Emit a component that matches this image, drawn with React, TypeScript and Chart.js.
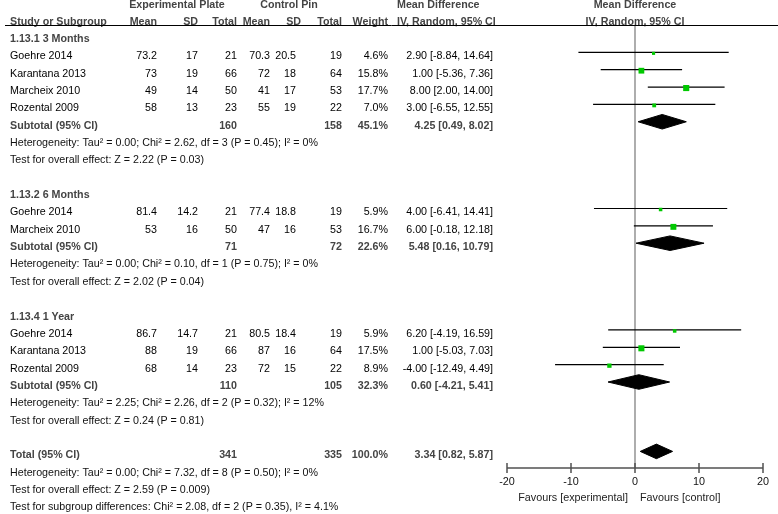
import React, { useEffect, useRef } from 'react';
import { Chart, registerables } from 'chart.js';

Chart.register(...registerables);

// ---------- data ----------
const STUDY_NAMES = ['Goehre 2014', 'Karantana 2013', 'Marcheix 2010', 'Rozental 2009', 'Goehre 2014', 'Marcheix 2010', 'Goehre 2014', 'Karantana 2013', 'Rozental 2009'];
const STUDY_ROWS = [3, 4, 5, 6, 12, 13, 19, 20, 21];
const EXP_MEAN = [73.2, 73, 49, 58, 81.4, 53, 86.7, 88, 68];
const EXP_SD = [17, 19, 14, 13, 14.2, 16, 14.7, 19, 14];
const EXP_TOTAL = [21, 66, 50, 23, 21, 50, 21, 66, 23];
const CTRL_MEAN = [70.3, 72, 41, 55, 77.4, 47, 80.5, 87, 72];
const CTRL_SD = [20.5, 18, 17, 19, 18.8, 16, 18.4, 16, 15];
const CTRL_TOTAL = [19, 64, 53, 22, 19, 53, 19, 64, 22];
const WEIGHTS = [4.6, 15.8, 17.7, 7.0, 5.9, 16.7, 5.9, 17.5, 8.9];
const MD = [2.9, 1.0, 8.0, 3.0, 4.0, 6.0, 6.2, 1.0, -4.0];
const CI_LO = [-8.84, -5.36, 2.0, -6.55, -6.41, -0.18, -4.19, -5.03, -12.49];
const CI_HI = [14.64, 7.36, 14.0, 12.55, 14.41, 12.18, 16.59, 7.03, 4.49];

const GROUP_LABELS = ['1.13.1 3 Months', '1.13.2 6 Months', '1.13.4 1 Year'];
const GROUP_ROWS = [2, 11, 18];

const POOLED_LABELS = ['Subtotal (95% CI)', 'Subtotal (95% CI)', 'Subtotal (95% CI)', 'Total (95% CI)'];
const POOLED_ROWS = [7, 14, 22, 26];
const POOLED_EXP_TOTAL = [160, 71, 110, 341];
const POOLED_CTRL_TOTAL = [158, 72, 105, 335];
const POOLED_WEIGHT = [45.1, 22.6, 32.3, 100.0];
const POOLED_MD = [4.25, 5.48, 0.6, 3.34];
const POOLED_LO = [0.49, 0.16, -4.21, 0.82];
const POOLED_HI = [8.02, 10.79, 5.41, 5.87];

const NOTE_ROWS = [8, 9, 15, 16, 23, 24, 27, 28, 29];
const NOTES = [
  'Heterogeneity: Tau² = 0.00; Chi² = 2.62, df = 3 (P = 0.45); I² = 0%',
  'Test for overall effect: Z = 2.22 (P = 0.03)',
  'Heterogeneity: Tau² = 0.00; Chi² = 0.10, df = 1 (P = 0.75); I² = 0%',
  'Test for overall effect: Z = 2.02 (P = 0.04)',
  'Heterogeneity: Tau² = 2.25; Chi² = 2.26, df = 2 (P = 0.32); I² = 12%',
  'Test for overall effect: Z = 0.24 (P = 0.81)',
  'Heterogeneity: Tau² = 0.00; Chi² = 7.32, df = 8 (P = 0.50); I² = 0%',
  'Test for overall effect: Z = 2.59 (P = 0.009)',
  'Test for subgroup differences: Chi² = 2.08, df = 2 (P = 0.35), I² = 4.1%',
];

const X_TICKS = [-20, -10, 0, 10, 20];
const X_MIN = -20;
const X_MAX = 20;
const FAVOURS_LEFT = 'Favours [experimental]';
const FAVOURS_RIGHT = 'Favours [control]';

// ---------- layout ----------
const W = 778;
const H = 514;
const ROW_H = 17.35;
const TEXT_DY = 4; // text sits a little below the marks
const PLOT_TOP = 26;
const PLOT_BOTTOM = 468;
const PLOT_LEFT = 507;
const PLOT_RIGHT = 763;
const Y_MIN = 2 - (39 - TEXT_DY - PLOT_TOP) / ROW_H;
const Y_MAX = Y_MIN + (PLOT_BOTTOM - PLOT_TOP) / ROW_H;
const SQUARE_DY = 1 / ROW_H;
const FONT = "'Liberation Sans', Arial, sans-serif";
const FS = 10.7;
const GREEN = '#00c800';
const BOLD_COLOR = '#444444';

const fmtCI = (m: number, lo: number, hi: number) => `${m.toFixed(2)} [${lo.toFixed(2)}, ${hi.toFixed(2)}]`;

const tablePlugin = {
  id: 'forestTable',
  afterDatasetsDraw(chart: any) {
    const ctx = chart.ctx as CanvasRenderingContext2D;
    const xs = chart.scales.x;
    const ys = chart.scales.y;
    const ry = (r: number) => ys.getPixelForValue(r) + TEXT_DY;
    ctx.save();
    ctx.textBaseline = 'middle';
    const txt = (s: string, x: number, y: number, align: CanvasTextAlign, bold = false, color?: string, size = FS) => {
      ctx.font = `${bold ? 'bold ' : ''}${size}px ${FONT}`;
      ctx.fillStyle = color || (bold ? BOLD_COLOR : '#000');
      ctx.textAlign = align;
      ctx.fillText(s, x, y);
    };

    // header
    const h0 = ry(0) + 1;
    const h1 = ry(1) + 0.5;
    txt('Experimental Plate', 177, h0, 'center', true);
    txt('Control Pin', 289, h0, 'center', true);
    txt('Mean Difference', 397, h0, 'left', true);
    txt('Mean Difference', xs.getPixelForValue(0), h0, 'center', true);
    txt('Study or Subgroup', 10, h1, 'left', true);
    txt('Mean', 157, h1, 'right', true);
    txt('SD', 198, h1, 'right', true);
    txt('Total', 237, h1, 'right', true);
    txt('Mean', 270, h1, 'right', true);
    txt('SD', 301, h1, 'right', true);
    txt('Total', 342, h1, 'right', true);
    txt('Weight', 388, h1, 'right', true);
    txt('IV, Random, 95% CI', 397, h1, 'left', true);
    txt('IV, Random, 95% CI', xs.getPixelForValue(0), h1, 'center', true);

    ctx.strokeStyle = '#000';
    ctx.lineWidth = 1;
    ctx.beginPath();
    ctx.moveTo(5, PLOT_TOP - 0.5);
    ctx.lineTo(W, PLOT_TOP - 0.5);
    ctx.stroke();

    GROUP_LABELS.forEach((g, i) => txt(g, 10, ry(GROUP_ROWS[i]), 'left', true));

    STUDY_NAMES.forEach((n, i) => {
      const y = ry(STUDY_ROWS[i]);
      txt(n, 10, y, 'left');
      txt(String(EXP_MEAN[i]), 157, y, 'right');
      txt(String(EXP_SD[i]), 198, y, 'right');
      txt(String(EXP_TOTAL[i]), 237, y, 'right');
      txt(String(CTRL_MEAN[i]), 270, y, 'right');
      txt(String(CTRL_SD[i]), 296, y, 'right');
      txt(String(CTRL_TOTAL[i]), 342, y, 'right');
      txt(WEIGHTS[i].toFixed(1) + '%', 388, y, 'right');
      txt(fmtCI(MD[i], CI_LO[i], CI_HI[i]), 493, y, 'right');
    });

    POOLED_LABELS.forEach((l, i) => {
      const y = ry(POOLED_ROWS[i]);
      txt(l, 10, y, 'left', true);
      txt(String(POOLED_EXP_TOTAL[i]), 237, y, 'right', true);
      txt(String(POOLED_CTRL_TOTAL[i]), 342, y, 'right', true);
      txt(POOLED_WEIGHT[i].toFixed(1) + '%', 388, y, 'right', true);
      txt(fmtCI(POOLED_MD[i], POOLED_LO[i], POOLED_HI[i]), 493, y, 'right', true);
    });

    NOTES.forEach((n, i) => txt(n, 10, ry(NOTE_ROWS[i]), 'left', false, '#111'));

    // x axis
    const ay = chart.chartArea.bottom;
    ctx.strokeStyle = '#505050';
    ctx.lineWidth = 1.5;
    ctx.beginPath();
    ctx.moveTo(xs.getPixelForValue(X_MIN), ay);
    ctx.lineTo(xs.getPixelForValue(X_MAX), ay);
    ctx.stroke();
    X_TICKS.forEach((t) => {
      const px = xs.getPixelForValue(t);
      ctx.beginPath();
      ctx.moveTo(px, ay - 5);
      ctx.lineTo(px, ay + 5);
      ctx.stroke();
      txt(String(t), px, ay + 14, 'center', false, '#111', 10.8);
    });
    const zx = xs.getPixelForValue(0);
    txt(FAVOURS_LEFT, zx - 7, ay + 30, 'right', false, '#222', 10.8);
    txt(FAVOURS_RIGHT, zx + 5, ay + 30, 'left', false, '#222', 10.8);
    ctx.restore();
  },
};

export default function App() {
  const ref = useRef<HTMLCanvasElement | null>(null);
  useEffect(() => {
    if (!ref.current) return;
    const datasets: any[] = [];
    // zero line
    datasets.push({
      type: 'line',
      data: [{ x: 0, y: Y_MIN }, { x: 0, y: Y_MAX }],
      borderColor: '#9a9a9a',
      borderWidth: 1.6,
      pointRadius: 0,
      order: 10,
    });
    // CI lines
    STUDY_ROWS.forEach((r, i) => {
      datasets.push({
        type: 'line',
        data: [{ x: CI_LO[i], y: r }, { x: CI_HI[i], y: r }],
        borderColor: '#000',
        borderWidth: 1.2,
        pointRadius: 0,
        order: 3,
      });
    });
    // diamonds
    POOLED_ROWS.forEach((r, i) => {
      const h = 0.42;
      datasets.push({
        type: 'line',
        data: [
          { x: POOLED_LO[i], y: r },
          { x: POOLED_MD[i], y: r - h },
          { x: POOLED_HI[i], y: r },
          { x: POOLED_MD[i], y: r + h },
          { x: POOLED_LO[i], y: r },
        ],
        borderColor: '#000',
        backgroundColor: '#000',
        borderWidth: 1,
        pointRadius: 0,
        fill: 'shape',
        tension: 0,
        order: 2,
      });
    });
    // squares
    datasets.push({
      type: 'scatter',
      data: STUDY_ROWS.map((r, i) => ({ x: MD[i], y: r + SQUARE_DY })),
      pointStyle: 'rect',
      pointRadius: WEIGHTS.map((w) => (1.45 * Math.sqrt(w)) / Math.SQRT2),
      backgroundColor: GREEN,
      borderColor: GREEN,
      borderWidth: 0,
      order: 1,
    });

    const chart = new Chart(ref.current, {
      type: 'scatter',
      data: { datasets },
      options: {
        animation: false,
        responsive: false,
        maintainAspectRatio: false,
        events: [],
        layout: { padding: { left: PLOT_LEFT, right: W - PLOT_RIGHT, top: PLOT_TOP, bottom: H - PLOT_BOTTOM } },
        scales: {
          x: { type: 'linear', min: X_MIN, max: X_MAX, display: false },
          y: { type: 'linear', min: Y_MIN, max: Y_MAX, reverse: true, display: false },
        },
        plugins: { legend: { display: false }, tooltip: { enabled: false } },
      } as any,
      plugins: [tablePlugin],
    });
    return () => chart.destroy();
  }, []);

  return (
    <div style={{ position: 'fixed', left: 0, top: 0, width: W, height: H, background: '#fff' }}>
      <canvas ref={ref} width={W} height={H} style={{ width: W, height: H, display: 'block' }} />
    </div>
  );
}
